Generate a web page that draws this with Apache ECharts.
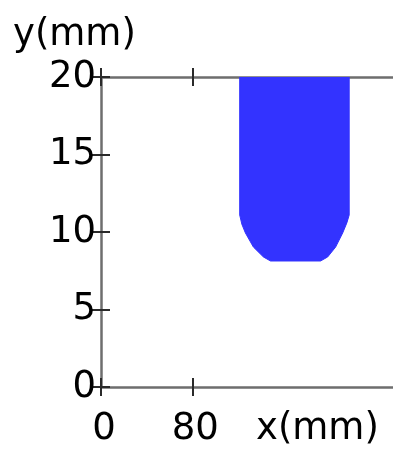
<!DOCTYPE html>
<html>
<head>
<meta charset="utf-8">
<script src="https://cdn.jsdelivr.net/npm/echarts@6/dist/echarts.min.js"></script>
<style>
html,body{margin:0;padding:0;background:#fff;}
#chart{width:393px;height:457px;}
</style>
</head>
<body>
<div id="chart"></div>
<script>
const xTicks = [0, 80];
const yTicks = [0, 5, 10, 15, 20];
const profileX = [121.6, 121.6, 123.5, 126.6, 133.6, 142.4, 148.6, 192.5, 198.7, 205.7, 211.9, 215.6, 217.6, 217.6];
const profileY = [20, 11.1, 10.5, 9.94, 9.03, 8.39, 8.13, 8.13, 8.39, 9.03, 9.94, 10.6, 11.1, 20];
const xLabel = 'x(mm)';
const yLabel = 'y(mm)';

const FONT = 'DejaVu Sans';
const FS = 37;
const X_MIN = 0, X_MAX = 256, Y_MIN = 0, Y_MAX = 20;
const lineCol = '#6e6e6e';
const tickCol = '#2a2a2a';

function xAxisDef(pos, inside, showLine, showLabel) {
  return {
    type: 'value', position: pos, min: X_MIN, max: X_MAX,
    axisLine: { show: showLine, onZero: false, lineStyle: { color: lineCol, width: 2.5 } },
    axisTick: { show: true, inside: inside, length: 9, customValues: xTicks, lineStyle: { color: tickCol, width: 2 } },
    axisLabel: { show: showLabel, customValues: xTicks, margin: 24, color: '#000', fontFamily: FONT, fontSize: FS, padding: [0, 0, 0, 6] },
    splitLine: { show: false }
  };
}
function yAxisDef(inside, showLine, showLabel) {
  return {
    type: 'value', position: 'left', min: Y_MIN, max: Y_MAX,
    axisLine: { show: showLine, onZero: false, lineStyle: { color: lineCol, width: 2.5 } },
    axisTick: { show: true, inside: inside, length: 9, customValues: yTicks, lineStyle: { color: tickCol, width: 2 } },
    axisLabel: { show: showLabel, customValues: yTicks, margin: 5, color: '#000', fontFamily: FONT, fontSize: FS, padding: [9, 0, 0, 0] },
    splitLine: { show: false }
  };
}

const chart = echarts.init(document.getElementById('chart'), null, { renderer: 'canvas' });
chart.setOption({
  animation: false,
  backgroundColor: '#fff',
  grid: { left: 101, right: 0, top: 77, bottom: 70, containLabel: false },
  xAxis: [
    xAxisDef('bottom', false, true, true),
    xAxisDef('bottom', true, false, false),
    xAxisDef('top', false, true, false),
    xAxisDef('top', true, false, false)
  ],
  yAxis: [
    yAxisDef(false, true, true),
    yAxisDef(true, false, false)
  ],
  graphic: [
    { type: 'text', left: 13, top: 17, style: { text: yLabel, font: FS + 'px "' + FONT + '"', fill: '#000' } },
    { type: 'text', left: 256, top: 411, style: { text: xLabel, font: FS + 'px "' + FONT + '"', fill: '#000' } }
  ],
  series: [{
    type: 'line',
    xAxisIndex: 0, yAxisIndex: 0,
    data: profileX.map((x, i) => [x, profileY[i]]),
    showSymbol: false,
    smooth: false,
    lineStyle: { color: '#3333ff', width: 1 },
    areaStyle: { color: '#3333ff', opacity: 1, origin: 'end' },
    z: 1
  }]
});
</script>
</body>
</html>
